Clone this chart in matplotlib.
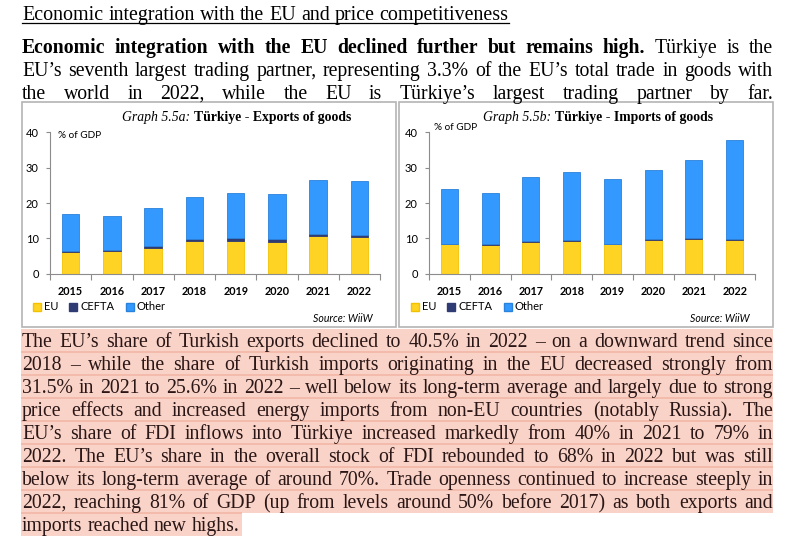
import matplotlib
matplotlib.use("Agg")
import matplotlib.pyplot as plt
from matplotlib.patches import Rectangle
from matplotlib.lines import Line2D

W, H = 787, 547

years = ["2015", "2016", "2017", "2018", "2019", "2020", "2021", "2022"]

# exports of goods, % of GDP
exp_eu = [6.0, 6.4, 7.4, 9.3, 9.3, 9.1, 10.7, 10.4]
exp_cefta = [0.4, 0.4, 0.3, 0.4, 0.7, 0.6, 0.6, 0.6]
exp_other = [10.4, 9.6, 10.8, 12.1, 12.7, 12.8, 15.1, 15.1]

# imports of goods, % of GDP
imp_eu = [8.3, 8.2, 9.0, 9.2, 8.3, 9.5, 9.8, 9.5]
imp_cefta = [0.2, 0.2, 0.2, 0.2, 0.2, 0.2, 0.2, 0.2]
imp_other = [15.6, 14.5, 18.1, 19.3, 18.2, 19.5, 22.1, 28.0]

series_labels = ["EU", "CEFTA", "Other"]
series_colors = ["#FFD324", "#2F3B73", "#3399FF"]
edge_colors = ["#F2C200", "#2F3B73", "#2B82DA"]

heading = "Economic integration with the EU and price competitiveness"
para1 = [
    [("Economic integration with the EU declined further but remains high.", "bold"),
     ("Türkiye is the", "normal")],
    [("EU’s seventh largest trading partner, representing 3.3% of the EU’s total trade in goods with", "normal")],
    [("the world in 2022, while the EU is Türkiye’s largest trading partner by far.", "normal")],
]
para2 = [
    "The EU’s share of Turkish exports declined to 40.5% in 2022 – on a downward trend since",
    "2018 – while the share of Turkish imports originating in the EU decreased strongly from",
    "31.5% in 2021 to 25.6% in 2022 – well below its long-term average and largely due to strong",
    "price effects and increased energy imports from non-EU countries (notably Russia). The",
    "EU’s share of FDI inflows into Türkiye increased markedly from 40% in 2021 to 79% in",
    "2022. The EU’s share in the overall stock of FDI rebounded to 68% in 2022 but was still",
    "below its long-term average of around 70%. Trade openness continued to increase steeply in",
    "2022, reaching 81% of GDP (up from levels around 50% before 2017) as both exports and",
    "imports reached new highs.",
]

fig = plt.figure(figsize=(W / 100, H / 100), dpi=100)
renderer = fig.canvas.get_renderer()
SERIF = "Liberation Serif"
SANS = "Lato"
BODY = 14.2


def fx(x):
    return x / W


def fy(y):
    return 1 - y / H


def text_line(runs, y, x0=22, x1=773, justify=True, size=BODY, color="black"):
    items = []
    for txt, weight in runs:
        for w in txt.split():
            t = fig.text(0, fy(y), w, fontsize=size, color=color, family=SERIF,
                         fontweight=weight, va="baseline", zorder=5)
            items.append((t, t.get_window_extent(renderer).width))
    total = sum(wd for _, wd in items)
    if justify and len(items) > 1:
        gap = (x1 - x0 - total) / (len(items) - 1)
    else:
        gap = size * 100 / 72 * 0.25
    x = x0
    for t, wd in items:
        t.set_x(fx(x))
        x += wd + gap
    return x - gap


# heading (underlined)
xe = text_line([(heading, "normal")], 20, justify=False, size=14.4)
fig.add_artist(Line2D([fx(22), fx(xe)], [fy(22.5), fy(22.5)], color="black", lw=0.9))

# first paragraph
for i, runs in enumerate(para1):
    text_line(runs, 53 + 23 * i)

# highlighted paragraph
band_top = 329
for i, line in enumerate(para2):
    last = i == len(para2) - 1
    y0 = band_top + 23 * i
    x_end = 242 if last else 773
    fig.patches.append(Rectangle((fx(21), fy(y0 + 23)), (x_end - 21) / W, 23 / H,
                                 transform=fig.transFigure, facecolor="#F9D3C7",
                                 edgecolor="none", zorder=0))
    if i > 0:
        fig.patches.append(Rectangle((fx(21), fy(y0 + 1)), (x_end - 21) / W, 2 / H,
                                     transform=fig.transFigure, facecolor="#F3BBAB",
                                     edgecolor="none", zorder=1))
    text_line([(line, "normal")], y0 + 18, justify=not last, color="#2A1616")


def mixed_center(parts, cx, y, size):
    items = []
    for txt, style, weight in parts:
        t = fig.text(0, fy(y), txt, fontsize=size, family=SERIF, fontstyle=style,
                     fontweight=weight, va="center", zorder=5)
        items.append((t, t.get_window_extent(renderer).width))
    space = size * 100 / 72 * 0.25
    total = sum(wd for _, wd in items) + space * (len(items) - 1)
    x = cx - total / 2
    for t, wd in items:
        t.set_x(fx(x))
        x += wd + space


def chart(box, ax_px, eu, cefta, other, title_a, title_b, title_cx,
          gdp_xy, legend_x, source_x):
    bx0, by0, bx1, by1 = box
    fig.patches.append(Rectangle((fx(bx0), fy(by1)), (bx1 - bx0) / W, (by1 - by0) / H,
                                 transform=fig.transFigure, fill=False,
                                 edgecolor="#B4B4B4", lw=1.2, zorder=2))
    x0, x1, ytop, ybot = ax_px
    ax = fig.add_axes([fx(x0), fy(ybot), (x1 - x0) / W, (ybot - ytop) / H])
    ax.set_facecolor("none")
    pos = range(len(years))
    bottom = [0] * len(years)
    for vals, col, ec in zip([eu, cefta, other], series_colors, edge_colors):
        ax.bar(pos, vals, 0.42, bottom=bottom, color=col, edgecolor=ec, lw=0.6)
        bottom = [b + v for b, v in zip(bottom, vals)]
    ax.set_xlim(-0.5, len(years) - 0.5)
    ax.set_ylim(0, 40)
    ax.set_yticks([0, 10, 20, 30, 40])
    ax.set_xticks(list(pos))
    ax.set_xticklabels(years, fontsize=7.8, fontweight="bold", family=SANS)
    ax.set_xticks([p - 0.5 for p in range(len(years) + 1)], minor=True)
    ax.tick_params(axis="x", which="major", length=0, pad=9)
    ax.tick_params(axis="x", which="minor", length=4, color="#8C8C8C", width=0.8)
    ax.tick_params(axis="y", length=3, color="#8C8C8C", width=0.8, pad=5, labelsize=8)
    for lab in ax.get_yticklabels():
        lab.set_family(SANS)
    for s in ["top", "right"]:
        ax.spines[s].set_visible(False)
    for s in ["left", "bottom"]:
        ax.spines[s].set_color("#8C8C8C")
        ax.spines[s].set_linewidth(0.8)

    mixed_center([(title_a, "italic", "normal"), (title_b, "normal", "bold")],
                 title_cx, 118, 9.9)
    fig.text(fx(gdp_xy[0]), fy(gdp_xy[1]), "% of GDP", fontsize=7.2, family=SANS,
             va="center", ha="left")
    fig.text(fx(source_x), fy(319), "Source: WiiW", fontsize=7.6, family=SANS,
             style="italic", va="center", ha="right")
    handles = [Line2D([], [], marker="s", ls="none", markersize=5.8, color=c,
                      markeredgecolor=e) for c, e in zip(series_colors, edge_colors)]
    ax.legend(handles, series_labels, loc="center left", ncol=3, frameon=False,
              bbox_to_anchor=(fx(legend_x), fy(307)), bbox_transform=fig.transFigure,
              borderpad=0, borderaxespad=0, handlelength=0.7, handletextpad=0.3,
              columnspacing=1.0, prop={"family": SANS, "size": 8})
    return ax


chart((21.7, 102.3, 395.7, 326.7), (50, 380, 132.3, 273.7),
      exp_eu, exp_cefta, exp_other, "Graph 5.5a:", "Türkiye - Exports of goods",
      236.5, (58, 135), 33, 373)
chart((398.5, 102.3, 772.5, 326.7), (429, 755, 132.3, 273.7),
      imp_eu, imp_cefta, imp_other, "Graph 5.5b:", "Türkiye - Imports of goods",
      598, (434, 128), 411, 750)

fig.savefig("out.png", dpi=100)
